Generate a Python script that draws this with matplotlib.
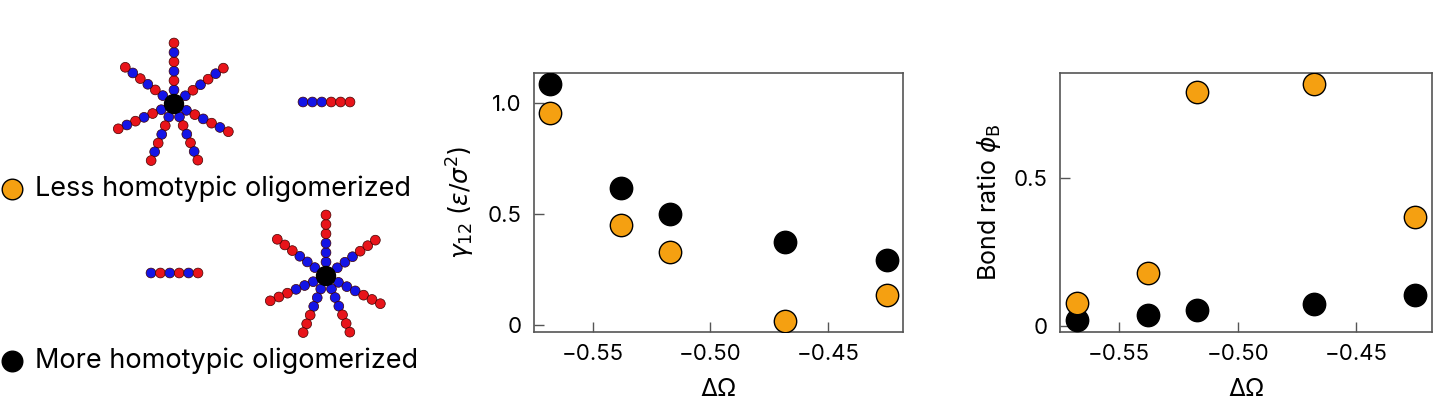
import numpy as np
import matplotlib
matplotlib.use("Agg")
import matplotlib.pyplot as plt
from matplotlib.patches import Circle

plt.rcParams['font.family'] = ['Inter', 'DejaVu Sans']
plt.rcParams['mathtext.fontset'] = 'dejavusans'

# Data
d_omega = [-0.568, -0.538, -0.517, -0.468, -0.425]
gamma_less = [0.955, 0.45, 0.33, 0.02, 0.135]
gamma_more = [1.087, 0.617, 0.50, 0.376, 0.296]
phi_less = [0.079, 0.18, 0.794, 0.82, 0.371]
phi_more = [0.019, 0.036, 0.053, 0.074, 0.104]
legend_labels = ["Less homotypic oligomerized", "More homotypic oligomerized"]

ORANGE = '#F5A011'
RED = '#E8141A'
BLUE = '#1414E6'
SPINE = '#555555'

fig = plt.figure(figsize=(14.34, 4.16), dpi=100)

# ---- schematic panel (pixel coordinate space) ----
sk = fig.add_axes([0, 0, 1, 1])
sk.set_xlim(0, 1434); sk.set_ylim(416, 0); sk.axis('off')
sk.set_zorder(-1)

arm_angles = [90, 36, 143, 204, -27, -112, -67]
bead_r = 4.9
step = 9.4

def star(cx, cy, colors):
    for a in arm_angles:
        t = np.deg2rad(a)
        for i, c in enumerate(colors):
            d = 14 + i * step
            sk.add_patch(Circle((cx + d*np.cos(t), cy - d*np.sin(t)), bead_r,
                                fc=c, ec='#400000', lw=0.5))
    sk.add_patch(Circle((cx, cy), 9.5, fc='black', ec='black'))

def chain(x0, y, colors):
    for i, c in enumerate(colors):
        sk.add_patch(Circle((x0 + i*step, y), bead_r, fc=c, ec='#400000', lw=0.5))

star(174, 104, [BLUE, RED, BLUE, RED, BLUE, RED])
chain(303, 102, [BLUE, BLUE, BLUE, RED, RED, RED])
chain(151, 273, [BLUE, RED, BLUE, RED, BLUE, RED])
star(326, 276, [BLUE, BLUE, BLUE, RED, RED, RED])

sk.scatter([12], [189], s=220, c=ORANGE, edgecolors='black', linewidths=1)
sk.text(35, 189, legend_labels[0], fontsize=19.5, va='center', ha='left')
sk.scatter([12], [361], s=220, c='black')
sk.text(35, 361, legend_labels[1], fontsize=19.5, va='center', ha='left')

def style(ax):
    for s in ax.spines.values():
        s.set_color(SPINE); s.set_linewidth(1.2)
    ax.tick_params(direction='in', length=7, width=1, color=SPINE, labelsize=16, pad=9)
    ax.set_xlim(-0.575, -0.418)
    ax.set_xticks([-0.55, -0.50, -0.45])
    ax.set_xticklabels(['\u22120.55', '\u22120.50', '\u22120.45'])
    ax.set_xlabel('ΔΩ', fontsize=18, labelpad=10)

ax1 = fig.add_axes([534/1434, 84/416, 369/1434, 259/416])
ax1.scatter(d_omega, gamma_more, s=260, c='black', zorder=3)
ax1.scatter(d_omega, gamma_less, s=260, c=ORANGE, edgecolors='black', linewidths=1, zorder=3)
style(ax1)
ax1.set_ylim(-0.03, 1.136)
ax1.set_yticks([0, 0.5, 1.0]); ax1.set_yticklabels(['0', '0.5', '1.0'])
ax1.set_ylabel(r'$\gamma_{12}$ ($\varepsilon/\sigma^2$)', fontsize=18, labelpad=8)

ax2 = fig.add_axes([1060/1434, 84/416, 372/1434, 259/416])
ax2.scatter(d_omega, phi_more, s=260, c='black', zorder=3)
ax2.scatter(d_omega, phi_less, s=260, c=ORANGE, edgecolors='black', linewidths=1, zorder=3)
style(ax2)
ax2.set_ylim(-0.02, 0.857)
ax2.set_yticks([0, 0.5]); ax2.set_yticklabels(['0', '0.5'])
ax2.set_ylabel(r'Bond ratio $\phi_\mathrm{B}$', fontsize=18, labelpad=8)

fig.savefig('out.png', dpi=100)
